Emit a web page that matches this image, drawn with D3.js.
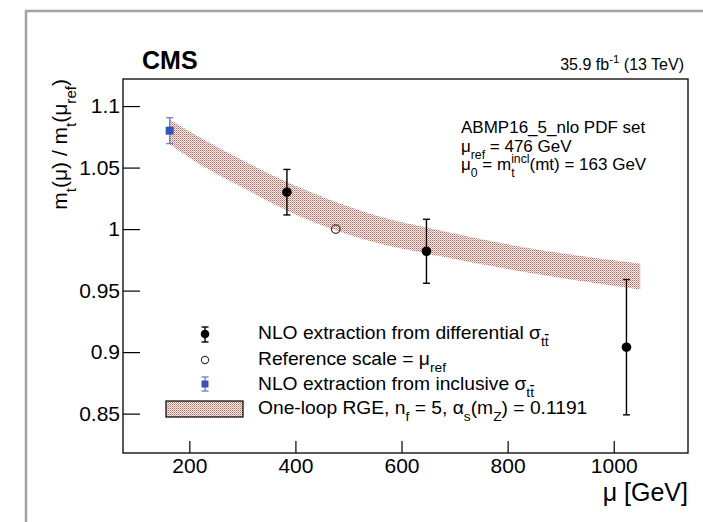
<!DOCTYPE html>
<html>
<head>
<meta charset="utf-8">
<title>Top mass running</title>
<style>
body { margin: 0; background: #fff; }
svg text { font-family: "Liberation Sans", Arial, sans-serif; fill: #000; }
.tick text { font-size: 21px; }
.ax line { stroke: #000; stroke-width: 1.2px; }
</style>
</head>
<body>
<svg width="703" height="522"></svg>
<script src="https://d3js.org/d3.v7.min.js"></script>
<script>

// values
var diffMu  = [384, 647, 1024];
var diffVal = [1.030, 0.982, 0.904];
var diffErr = [0.0185, 0.026, 0.055];

var refMu  = [476];
var refVal = [1.0];

var inclMu  = [163];
var inclVal = [1.080];
var inclErr = [0.0105];

// one-loop RGE band edges
var bandMu = [163, 230, 300, 385, 476, 560, 650, 820, 1050];
var bandHi = [1.089, 1.072, 1.056, 1.038, 1.022, 1.010, 1.001, 0.986, 0.972];
var bandLo = [1.069, 1.050, 1.034, 1.015, 0.999, 0.988, 0.980, 0.966, 0.951];

var xTicks = [200, 400, 600, 800, 1000];
var xTickLabels = ["200", "400", "600", "800", "1000"];
var yTicks = [0.85, 0.9, 0.95, 1, 1.05, 1.1];
var yTickLabels = ["0.85", "0.9", "0.95", "1", "1.05", "1.1"];

var svg = d3.select("svg");

var fl = 123, ft = 79, fr = 688, fb = 453;

var x = d3.scaleLinear().domain([75, 1140]).range([fl, fr]);
var y = d3.scaleLinear().domain([0.818, 1.122]).range([fb, ft]);

// grey canvas border
svg.append("rect")
    .attr("x", 26).attr("y", 11)
    .attr("width", 760).attr("height", 600)
    .attr("fill", "none")
    .attr("stroke", "#a3a3a3")
    .attr("stroke-width", 2.5);

// dotted fill for the band
var defs = svg.append("defs");
var pat = defs.append("pattern")
    .attr("id", "dots")
    .attr("width", 2).attr("height", 2)
    .attr("patternUnits", "userSpaceOnUse");
pat.append("rect").attr("width", 2).attr("height", 2).attr("fill", "#fbf3f1");
pat.append("rect").attr("x", 0).attr("y", 0).attr("width", 1).attr("height", 1).attr("fill", "#b86a60");
pat.append("rect").attr("x", 1).attr("y", 1).attr("width", 1).attr("height", 1).attr("fill", "#d3a198");

var bandData = bandMu.map(function(m, i) { return {mu: m, hi: bandHi[i], lo: bandLo[i]}; });

var area = d3.area()
    .x(function(d) { return x(d.mu); })
    .y0(function(d) { return y(d.lo); })
    .y1(function(d) { return y(d.hi); })
    .curve(d3.curveMonotoneX);

svg.append("path")
    .datum(bandData)
    .attr("d", area)
    .attr("fill", "url(#dots)");

// axes
var gx = svg.append("g").attr("class", "ax").attr("transform", "translate(0," + fb + ")");
gx.call(d3.axisBottom(x).tickValues(x.ticks(20)).tickSize(-6).tickFormat(""));
gx.call(d3.axisBottom(x).tickValues(xTicks).tickSize(-12).tickPadding(5)
    .tickFormat(function(d, i) { return xTickLabels[i]; }));
gx.selectAll(".domain").remove();

var gy = svg.append("g").attr("class", "ax").attr("transform", "translate(" + fl + ",0)");
gy.call(d3.axisLeft(y).tickValues(y.ticks(30)).tickSize(-8).tickFormat(""));
gy.call(d3.axisLeft(y).tickValues(yTicks).tickSize(-17).tickPadding(3)
    .tickFormat(function(d, i) { return yTickLabels[i]; }));
gy.selectAll(".domain").remove();
svg.selectAll(".tick text").attr("fill", "#000");

svg.append("rect")
    .attr("x", fl).attr("y", ft)
    .attr("width", fr - fl).attr("height", fb - ft)
    .attr("fill", "none").attr("stroke", "#000").attr("stroke-width", 1.3);

// error bars with small caps
function errBars(g, mus, vals, errs, col) {
  var e = g.selectAll(null).data(mus).enter().append("g").attr("stroke", col).attr("stroke-width", 1.4);
  e.append("line")
      .attr("x1", function(d) { return x(d); }).attr("x2", function(d) { return x(d); })
      .attr("y1", function(d, i) { return y(vals[i] + errs[i]); })
      .attr("y2", function(d, i) { return y(vals[i] - errs[i]); });
  [1, -1].forEach(function(s) {
    e.append("line")
        .attr("x1", function(d) { return x(d) - 3.5; }).attr("x2", function(d) { return x(d) + 3.5; })
        .attr("y1", function(d, i) { return y(vals[i] + s * errs[i]); })
        .attr("y2", function(d, i) { return y(vals[i] + s * errs[i]); });
  });
}

var pts = svg.append("g");
errBars(pts, inclMu, inclVal, inclErr, "#7480c4");
pts.selectAll(null).data(inclMu).enter().append("rect")
    .attr("x", function(d) { return x(d) - 4; })
    .attr("y", function(d, i) { return y(inclVal[i]) - 4; })
    .attr("width", 8).attr("height", 8)
    .attr("fill", "#3355bb");

errBars(pts, diffMu, diffVal, diffErr, "#000");
pts.selectAll(null).data(diffMu).enter().append("circle")
    .attr("cx", function(d) { return x(d); })
    .attr("cy", function(d, i) { return y(diffVal[i]); })
    .attr("r", 4.8).attr("fill", "#000");

pts.selectAll(null).data(refMu).enter().append("circle")
    .attr("cx", function(d) { return x(d); })
    .attr("cy", function(d, i) { return y(refVal[i]); })
    .attr("r", 4.3).attr("fill", "none").attr("stroke", "#333").attr("stroke-width", 1.2);

// text with sub/superscripts: parts = [text, kind, overline, dx]
function rich(t, parts, size) {
  var shift = 0;
  parts.forEach(function(p) {
    var ts = t.append("tspan").text(p[0]);
    var want = 0;
    if (p[1] == "sub") { want = size * 0.42; ts.attr("font-size", size * 0.72); }
    else if (p[1] == "sup") { want = -size * 0.42; ts.attr("font-size", size * 0.72); }
    else { ts.attr("font-size", size); }
    ts.attr("dy", want - shift);
    shift = want;
    if (p[2]) ts.attr("text-decoration", "overline");
    if (p[3]) ts.attr("dx", p[3]);
  });
  return t;
}

// header
svg.append("text").attr("x", 142).attr("y", 69)
    .attr("font-size", 25).attr("font-weight", "bold").text("CMS");

rich(svg.append("text").attr("x", 684).attr("y", 70).attr("text-anchor", "end"),
    [["35.9 fb", "n"], ["-1", "sup"], [" (13 TeV)", "n"]], 16);

// info text
rich(svg.append("text").attr("x", 461).attr("y", 133), [["ABMP16_5_nlo PDF set", "n"]], 17);
rich(svg.append("text").attr("x", 461).attr("y", 152),
    [["\u03bc", "n"], ["ref", "sub"], [" = 476 GeV", "n"]], 17);
rich(svg.append("text").attr("x", 461).attr("y", 170),
    [["\u03bc", "n"], ["0", "sub"], [" = m", "n"], ["t", "sub"], ["incl", "sup", false, -3.4], ["(mt) = 163 GeV", "n"]], 17);

// legend
var lx = 205;
var legRows = [339, 365, 390, 414];

var lg = svg.append("g");
function legBar(top, bot, col) {
  lg.append("line").attr("x1", lx).attr("x2", lx).attr("y1", top).attr("y2", bot).attr("stroke", col).attr("stroke-width", 1.4);
  [top, bot].forEach(function(v) {
    lg.append("line").attr("x1", lx - 3.5).attr("x2", lx + 3.5).attr("y1", v).attr("y2", v).attr("stroke", col).attr("stroke-width", 1.4);
  });
}
legBar(legRows[0] - 12, legRows[0] + 3, "#000");
lg.append("circle").attr("cx", lx).attr("cy", legRows[0] - 5).attr("r", 4.3).attr("fill", "#000");

lg.append("circle").attr("cx", lx).attr("cy", legRows[1] - 5).attr("r", 3.6)
    .attr("fill", "none").attr("stroke", "#333").attr("stroke-width", 1.1);

legBar(legRows[2] - 13, legRows[2] + 1, "#7480c4");
lg.append("rect").attr("x", lx - 3.5).attr("y", legRows[2] - 9.5).attr("width", 7).attr("height", 7).attr("fill", "#3355bb");

lg.append("rect").attr("x", 166).attr("y", 401).attr("width", 77).attr("height", 16)
    .attr("fill", "url(#dots)").attr("stroke", "#000").attr("stroke-width", 1.2);

var legText = [
  [["NLO extraction from differential \u03c3", "n"], ["t", "sub"], ["t", "sub", true]],
  [["Reference scale = \u03bc", "n"], ["ref", "sub"]],
  [["NLO extraction from inclusive \u03c3", "n"], ["t", "sub"], ["t", "sub", true]],
  [["One-loop RGE, n", "n"], ["f", "sub"], [" = 5, \u03b1", "n"], ["s", "sub"], ["(m", "n"], ["Z", "sub"], [") = 0.1191", "n"]]
];
legText.forEach(function(parts, i) {
  var t = lg.append("text").attr("transform", "translate(258," + legRows[i] + ") scale(1.1,1)");
  rich(t, parts, 17.5);
});

// axis titles
svg.append("text").attr("x", 688).attr("y", 501).attr("text-anchor", "end")
    .attr("font-size", 25).text("\u03bc [GeV]");

rich(svg.append("text").attr("transform", "translate(67," + ft + ") rotate(-90)").attr("text-anchor", "end"),
    [["m", "n"], ["t", "sub"], ["(\u03bc) / m", "n"], ["t", "sub"], ["(\u03bc", "n"], ["ref", "sub"], [")", "n"]], 21);

</script>
</body>
</html>
